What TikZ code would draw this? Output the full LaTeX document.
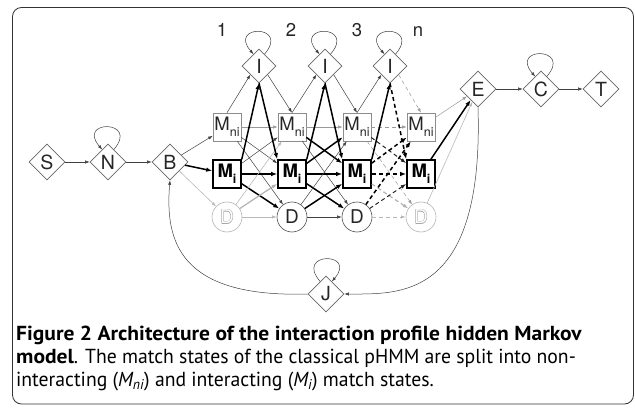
\documentclass[tikz,border=0pt]{standalone}
\usepackage{fontspec}
\setmainfont{TeX Gyre Heros}
\newfontfamily\capfont{PT Sans}[FakeStretch=0.97, BoldFeatures={FakeStretch=1.06}]
\usetikzlibrary{shapes.geometric,arrows.meta}
\newcommand\lsub[1]{\raisebox{-0.3em}{\fontsize{12.5}{12.5}\selectfont #1}}
\newcommand\hollowD{\leavevmode\rlap{\color{black!35}\kern0.5pt D}\rlap{\color{black!35}\kern-0.5pt D}\rlap{\color{black!35}\raisebox{0.5pt}{D}}\rlap{\color{black!35}\raisebox{-0.5pt}{D}}{\color{white}D}}
\tikzset{
  st/.style={diamond, draw=black!60, line width=0.6pt, inner sep=0pt, minimum width=36pt, minimum height=36pt, font=\fontsize{19.5}{19.5}\selectfont, text=black!85},
  ins/.style={st, minimum width=34pt, minimum height=34pt},
  mni/.style={rectangle, draw=black!45, line width=0.6pt, minimum width=28pt, minimum height=28pt, inner sep=0.5pt, font=\fontsize{18.5}{18.5}\selectfont, text=black!85},
  mi/.style={rectangle, draw=black, line width=1.6pt, minimum width=28pt, minimum height=28pt, inner sep=0.5pt, font=\bfseries\fontsize{18.5}{18.5}\selectfont},
  del/.style={circle, draw=black!70, line width=0.6pt, minimum size=30pt, inner sep=0pt, font=\fontsize{19}{19}\selectfont, text=black!85},
  gdel/.style={del, draw=black!30},
  collab/.style={anchor=base, font=\fontsize{18.5}{18.5}\selectfont, text=black!85},
  tA/.style={draw=black!75, line width=0.5pt, -{Latex[length=4.5pt,width=3.2pt]}},
  gA/.style={draw=black!40, line width=0.5pt, -{Latex[length=4.5pt,width=3.2pt]}},
  lA/.style={draw=black!28, line width=0.6pt, -{Latex[length=4.5pt,width=3.2pt]}},
  lkA/.style={draw=black!30, line width=1.2pt, -{Latex[length=5.5pt,width=4pt]}},
  mA/.style={draw=black!85, line width=1pt, -{Latex[length=5.5pt,width=4pt]}},
  kA/.style={draw=black, line width=1.5pt, -{Latex[length=6pt,width=4.5pt]}},
  dsh/.style={dash pattern=on 4pt off 3pt},
  captext/.style={anchor=base west, inner sep=0pt, font=\capfont\fontsize{20.3}{23}\selectfont}
}
\begin{document}
\begin{tikzpicture}[x=1pt,y=-1pt]
\useasboundingbox (0,0) rectangle (635,409);
\draw[black!80, line width=0.8pt, rounded corners=9pt] (12.5,7.5) rectangle (633.5,404);

% start/end states
\node[st] (S) at (47,162) {S};
\node[st] (N) at (108,162) {N};
\node[st] (B) at (170,162) {B};
\node[st] (E) at (478,89) {E};
\node[st] (C) at (541,89) {C};
\node[st] (T) at (601,89) {T};
\node[st] (J) at (326,294) {J};

% column labels
\node[collab] (l1) at (222,37) {1};
\node[collab] (l2) at (291,37) {2};
\node[collab] (l3) at (357,37) {3};
\node[collab] (ln) at (418,37) {n};

% match / delete states
\node[mni] (Mni1) at (227,127) {M\lsub{ni}};
\node[mni] (Mni2) at (292,127) {M\lsub{ni}};
\node[mni] (Mni3) at (357,127) {M\lsub{ni}};
\node[mni] (Mni4) at (421,127) {M\lsub{ni}};
\node[mi] (Mi1) at (227,174) {M\lsub{\bfseries i}};
\node[mi] (Mi2) at (292,174) {M\lsub{\bfseries i}};
\node[mi] (Mi3) at (357,174) {M\lsub{\bfseries i}};
\node[mi] (Mi4) at (421,174) {M\lsub{\bfseries i}};
\node[gdel] (D1) at (227,217) {\hollowD};
\node[del] (D2) at (292,217) {D};
\node[del] (D3) at (357,217) {D};
\node[gdel] (D4) at (421,217) {\hollowD};

% insert states
\node[ins] (I1) at (259,66) {I};
\node[ins] (I2) at (325,66) {I};
\node[ins] (I3) at (390,66) {I};

% chain
\draw[tA] (S) -- (N);
\draw[tA] (N) -- (B);
\draw[tA] (E) -- (C);
\draw[tA] (C) -- (T);

% self loops
\draw[tA] (N.65) .. controls +(26,-30) and +(-26,-30) .. (N.115);
\draw[tA] (C.65) .. controls +(26,-30) and +(-26,-30) .. (C.115);
\draw[tA] (I1.65) .. controls +(26,-30) and +(-26,-30) .. (I1.115);
\draw[tA] (I2.65) .. controls +(26,-30) and +(-26,-30) .. (I2.115);
\draw[tA] (I3.65) .. controls +(26,-30) and +(-26,-30) .. (I3.115);
\draw[tA] (J.115) .. controls +(-26,-30) and +(26,-30) .. (J.65);

% from B
\draw[tA] (B) -- (Mni1);
\draw[kA] (B) -- (Mi1);
\draw[lA] (B) -- (D1);

% long returns
\draw[tA] (E.south) .. controls (484,300) and (400,294) .. (J.east);
\draw[tA] (J.west) .. controls (178,298) and (165,240) .. (B.south);

% gap 1
\draw[gA] (Mni1) -- (Mni2);
\draw[tA] (Mni1) -- (Mi2);
\draw[tA] (Mni1) -- (D2);
\draw[tA] (Mi1) -- (Mni2);
\draw[kA] (Mi1) -- (Mi2);
\draw[kA] (Mi1) -- (D2);
\draw[lA] (D1) -- (Mni2);
\draw[lkA] (D1) -- (Mi2);
\draw[lA] (D1) -- (D2);
\draw[tA] (Mni1.north) -- (I1.south west);
\draw[kA] (Mi1.north east) -- (I1.south);
\draw[tA] (I1.south east) -- (Mni2.north);
\draw[kA] (I1.south) -- (Mi2.north west);

% gap 2
\draw[gA] (Mni2) -- (Mni3);
\draw[kA] (Mni2) -- (Mi3);
\draw[tA] (Mni2) -- (D3);
\draw[kA] (Mi2) -- (Mni3);
\draw[kA] (Mi2) -- (Mi3);
\draw[kA] (Mi2) -- (D3);
\draw[tA] (D2) -- (Mni3);
\draw[kA] (D2) -- (Mi3);
\draw[tA] (D2) -- (D3);
\draw[tA] (Mni2.north) -- (I2.south west);
\draw[kA] (Mi2.north east) -- (I2.south);
\draw[tA] (I2.south east) -- (Mni3.north);
\draw[kA] (I2.south) -- (Mi3.north west);

% gap 3 (dashed)
\draw[gA,dsh] (Mni3) -- (Mni4);
\draw[mA,dsh] (Mni3) -- (Mi4);
\draw[gA,dsh] (Mni3) -- (D4);
\draw[kA,dsh] (Mi3) -- (Mni4);
\draw[kA,dsh] (Mi3) -- (Mi4);
\draw[lkA,dsh] (Mi3) -- (D4);
\draw[kA,dsh] (D3) -- (Mni4);
\draw[mA,dsh] (D3) -- (Mi4);
\draw[lA,dsh] (D3) -- (D4);
\draw[tA] (Mni3.north) -- (I3.south west);
\draw[kA] (Mi3.north east) -- (I3.south);
\draw[gA,dsh] (I3.south east) -- (Mni4.north);
\draw[kA,dsh] (I3.south) -- (Mi4.north west);

% to E
\draw[gA] (Mni4) -- (E);
\draw[kA] (Mi4) -- (E);
\draw[lA] (D4) -- (E);

% caption
\node[captext] (cap1) at (16,340) {\bfseries Figure 2 Architecture of the interaction profile hidden Markov};
\node[captext] (cap2) at (16,363) {\textbf{model}. The match states of the classical pHMM are split into non-};
\node[captext] (cap3) at (16,386) {interacting (\textit{M\textsubscript{ni}}) and interacting (\textit{M\textsubscript{i}}) match states.};
\end{tikzpicture}
\end{document}
